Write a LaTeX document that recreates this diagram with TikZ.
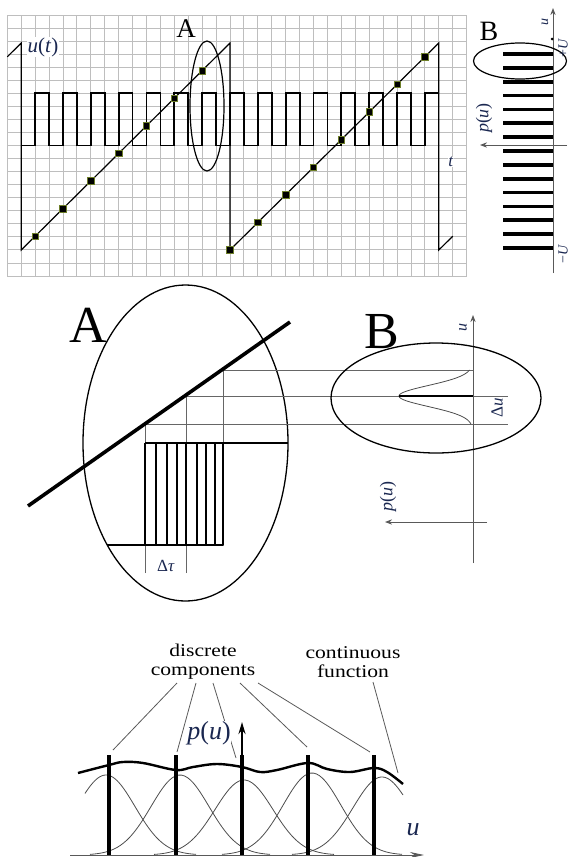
\documentclass[tikz,border=0pt]{standalone}
\usepackage{fontspec}
\setmainfont{Liberation Serif}
\usetikzlibrary{arrows.meta}

\definecolor{navy}{HTML}{1A2750}
\definecolor{gridgray}{HTML}{BEBEBE}
\definecolor{mkgreen}{HTML}{6E7F2A}

\newcommand{\fs}[1]{\fontsize{#1}{#1}\selectfont}
\newcommand{\pofu}{\textit{p}(\textit{u})}

\begin{document}
\begin{tikzpicture}[x=1pt, y=-1pt, >=Stealth,
  gridline/.style={gridgray, line width=0.9pt},
  wave/.style={line width=1.8pt},
  saw/.style={line width=1.2pt},
  mk/.style={rectangle, fill=black, draw=mkgreen, line width=0.6pt, minimum size=6.5pt, inner sep=0pt},
  bar/.style={line width=3.8pt},
  guide/.style={gray!80!black, line width=0.8pt},
  axis/.style={gray!70!black, line width=0.9pt},
  lead/.style={gray!70!black, line width=0.8pt},
  bell/.style={gray!60!black, line width=0.8pt},
  lbl/.style={text=navy, inner sep=0.5pt}]

\useasboundingbox (0,0) rectangle (572,857);

% grid of the time plot
\def\gx{7.3}
\def\cw{13.92}
\foreach \c in {0,...,33}
  \draw[gridline] ({\gx+\c*\cw},15) -- ({\gx+\c*\cw},276);
\foreach \r in {0,...,20}
  \draw[gridline] (\gx,{15+\r*13.05}) -- ({\gx+33*\cw},{15+\r*13.05});

% square wave
\draw[wave] ({\gx+\cw},145.5)
  \foreach \k in {2,4,...,28} {
    -- ({\gx+\k*\cw},145.5) -- ({\gx+\k*\cw},93.3)
    -- ({\gx+(\k+1)*\cw},93.3) -- ({\gx+(\k+1)*\cw},145.5) }
  -- ({\gx+30*\cw},145.5) -- ({\gx+30*\cw},93.3) -- ({\gx+31*\cw},93.3);

% sawtooth
\draw[saw] (\gx,56.8) -- ({\gx+\cw},43) -- ({\gx+\cw},250)
  -- ({\gx+16*\cw},43) -- ({\gx+16*\cw},250)
  -- ({\gx+31*\cw},43) -- ({\gx+31*\cw},250) -- ({\gx+32*\cw},236.2);

% sample points
\foreach \c in {2,4,...,14}
  \node[mk] (ma\c) at ({\gx+\c*\cw},{250-13.8*(\c-1)}) {};
\foreach \c in {16,18,...,30}
  \node[mk] (mb\c) at ({\gx+\c*\cw},{250-13.8*(\c-16)}) {};

\draw[line width=1.2pt] (207,106) ellipse [x radius=17pt, y radius=65pt];
\node[lbl, fill=white, font=\fs{21}] (ut) at (43,47) {\textit{u}(\textit{t})};
\node[font=\fs{27}] (A1) at (186,29) {A};
\node[lbl, fill=white, font=\fs{17}] (t) at (451,162) {\textit{t}};

% histogram of levels
\foreach \k in {0,...,14}
  \draw[bar] (503,{248-13.86*\k}) -- (553,{248-13.86*\k});
\draw[axis, ->] (553,273) -- (553,8);
\draw[axis, ->] (567,145) -- (480,145);
\fill (552,39) circle (1.5pt);
\draw[line width=1.2pt] (520,61) ellipse [x radius=46.5pt, y radius=18pt];
\node[font=\fs{28}] (B1) at (489,31) {B};
\node[lbl, rotate=90, font=\fs{14}] (u1) at (545,22) {\textit{u}};
\node[lbl, rotate=90, font=\fs{14}] (pU) at (563,48) {+\textit{U}};
\node[lbl, rotate=90, font=\fs{14}] (mU) at (563,254) {\textminus\textit{U}};
\node[lbl, rotate=90, font=\fs{18}] (p1) at (484,118) {\pofu};

% zoom A
\draw[line width=1.3pt] (185.5,443) ellipse [x radius=102.5pt, y radius=158pt];
\node[font=\fs{52}] (A2) at (88,325) {A};
\draw[guide] (145,573) -- (145,424) -- (508,424);
\draw[guide] (186,573) -- (186,396) -- (508,396);
\draw[guide] (223,546) -- (223,370) -- (473,370);
\foreach \xx in {156,167,177,197,206,215,223}
  \draw[line width=1.2pt] (\xx,443) -- (\xx,545);
\draw[line width=2pt] (145,443) -- (145,545);
\draw[line width=2pt] (186,443) -- (186,545);
\draw[line width=2.6pt] (107,545) -- (223,545);
\draw[line width=2.6pt] (145,443) -- (288,443);
\draw[line width=3.6pt] (28,506) -- (290,322);
\node[lbl, font=\fs{17}] (dtau) at (166,566) {Δ\textit{τ}};

% zoom B
\draw[axis, ->] (473,563) -- (473,315);
\draw[axis, ->] (487,522) -- (385,522);
\draw[bell] plot[domain=370:424, samples=70, smooth]
  ({473-74*exp(-((\x-396)*(\x-396))/220)}, \x);
\draw[line width=2.6pt] (399,396) -- (473,396);
\draw[line width=1.3pt] (436,398) ellipse [x radius=105pt, y radius=55pt];
\node[font=\fs{52}] (B2) at (382,332) {B};
\node[lbl, rotate=90, font=\fs{16}] (u2) at (463,327) {\textit{u}};
\node[lbl, rotate=90, font=\fs{17}] (du) at (497,408) {Δ\textit{u}};
\node[lbl, rotate=90, font=\fs{18}] (p2) at (388,496) {\pofu};

% density with discrete components
\foreach \c/\a in {106/80,180/80,244/75,312/82,382/78} {
  \pgfmathsetmacro\lo{max(85,\c-90)}
  \pgfmathsetmacro\hi{min(403,\c+90)}
  \draw[bell] plot[domain=\lo:\hi, samples=60, smooth]
    (\x, {855-\a*exp(-((\x-\c)*(\x-\c))/1680)});
}
\draw[line width=2.4pt] plot[smooth, tension=0.6] coordinates {
  (78,773) (109,765) (123,762) (143,763) (176,770) (193,767) (217,764)
  (242,767) (260,772) (277,770) (308,763) (327,769) (350,772) (374,768)
  (387,772) (403,784)};
\foreach \b in {109,176,242,308,374}
  \draw[bar] (\b,755) -- (\b,855);
\draw[line width=2pt, -{Stealth[length=12pt, width=7pt]}] (242,757) -- (242,722);
\draw[axis, -{Stealth[length=14pt, width=6pt]}] (70,855) -- (424,855);

\node[font=\fs{18}, align=center, xscale=1.2] (dc) at (203,662)
  {discrete\\[1pt]components};
\node[font=\fs{18}, align=center, xscale=1.2] (cf) at (353,662)
  {continuous\\[1pt]function};
\coordinate (d1) at (177,683);
\coordinate (d2) at (196,683);
\coordinate (d3) at (213,683);
\coordinate (d4) at (240,683);
\coordinate (d5) at (258,683);
\coordinate (c1) at (373,682);
\coordinate (t1) at (113,750);
\coordinate (t2) at (177,752);
\coordinate (t3) at (236,758);
\coordinate (t4) at (307,747);
\coordinate (t5) at (370,752);
\coordinate (t6) at (398,773);
\draw[lead] (d1) -- (t1);
\draw[lead] (d2) -- (t2);
\draw[lead] (d3) -- (t3);
\draw[lead] (d4) -- (t4);
\draw[lead] (d5) -- (t5);
\draw[lead] (c1) -- (t6);
\node[lbl, fill=white, font=\fs{26}] (p3) at (209,733) {\pofu};
\node[lbl, font=\fs{26}] (u3) at (413,830) {\textit{u}};

\end{tikzpicture}
\end{document}
